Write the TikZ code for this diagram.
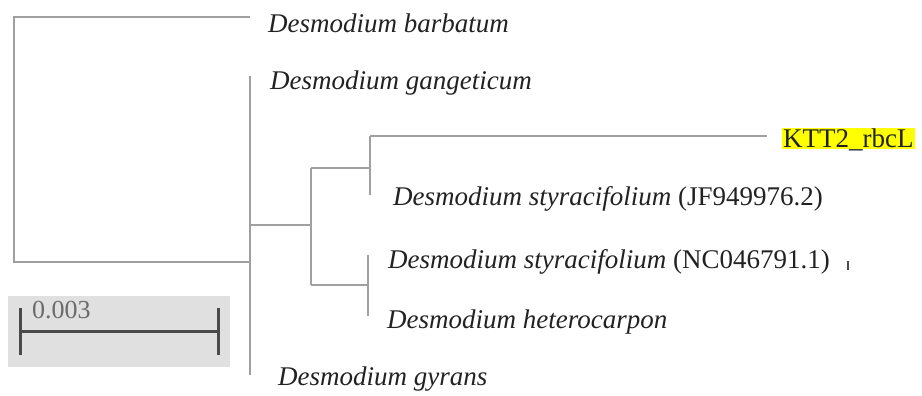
\documentclass[tikz,border=0pt]{standalone}
\usepackage{fontspec}
\setmainfont{Liberation Serif}
\definecolor{branch}{HTML}{A0A0A0}
\definecolor{labtxt}{HTML}{222222}
\definecolor{scalebg}{HTML}{E0E0E0}
\definecolor{scalebar}{HTML}{4A4A4A}
\definecolor{hilite}{HTML}{FFFF00}
\begin{document}
\begin{tikzpicture}[x=1pt,y=-1pt,
  br/.style={draw=branch,line width=1.8pt},
  leaf/.style={anchor=base west,inner sep=0pt,text=labtxt,font=\fontsize{27}{30}\selectfont},
  sbar/.style={draw=scalebar,line width=3pt}]
\useasboundingbox (0,0) rectangle (922,396);
% named points of the tree
\coordinate (rt) at (14,17);
\coordinate (rb) at (14,262);
\coordinate (bt) at (250,17);
\coordinate (n1) at (250,262);
\coordinate (n1t) at (250,76);
\coordinate (n1b) at (250,375);
\coordinate (n1m) at (250,225);
\coordinate (n2) at (311,225);
\coordinate (n2t) at (311,168);
\coordinate (n2b) at (311,285);
\coordinate (n3) at (370,168);
\coordinate (n3t) at (370,136);
\coordinate (n3b) at (370,195);
\coordinate (kt) at (767,136);
\coordinate (n4) at (368,285);
\coordinate (n4t) at (368,255);
\coordinate (n4b) at (368,316);
% branches
\draw[br] (bt) -- (rt) -- (rb) -- (n1);
\draw[br] (n1t) -- (n1b);
\draw[br] (n1m) -- (n2);
\draw[br] (n2t) -- (n2b);
\draw[br] (n2t) -- (n3);
\draw[br] (n3t) -- (n3b);
\draw[br] (n3t) -- (kt);
\draw[br] (n2b) -- (n4);
\draw[br] (n4t) -- (n4b);
% labels
\node[leaf] (barb) at (268,33) {\itshape Desmodium barbatum};
\node[leaf] (gang) at (270,90) {\itshape Desmodium gangeticum};
\node[leaf,fill=hilite,inner xsep=1pt,inner ysep=0pt,text height=19pt,text depth=2pt] (ktt) at (782,147) {KTT2\_rbcL};
\node[leaf] (styj) at (393,205) {\textit{Desmodium styracifolium} (JF949976.2)};
\node[leaf] (styn) at (388,268) {\textit{Desmodium styracifolium} (NC046791.1)};
\node[leaf] (hete) at (387,328) {\itshape Desmodium heterocarpon};
\node[leaf] (gyra) at (278,385) {\itshape Desmodium gyrans};
\coordinate (tka) at (848,261);
\coordinate (tkb) at (848,270);
\draw[draw=scalebar,line width=1.2pt] (tka) -- (tkb);
% scale bar
\node[fill=scalebg,minimum width=222pt,minimum height=71pt,inner sep=0pt,anchor=north west] (sbox) at (8,296) {};
\coordinate (sl) at (20,331);
\coordinate (sr) at (218,331);
\coordinate (slt) at (20,308);
\coordinate (slb) at (20,355);
\coordinate (srt) at (218,308);
\coordinate (srb) at (218,355);
\draw[sbar] (sl) -- (sr);
\draw[sbar] (slt) -- (slb);
\draw[sbar] (srt) -- (srb);
\node[anchor=base west,inner sep=0pt,text=black!58,font=\fontsize{26}{28}\selectfont] (slab) at (32,318) {0.003};
\end{tikzpicture}
\end{document}
